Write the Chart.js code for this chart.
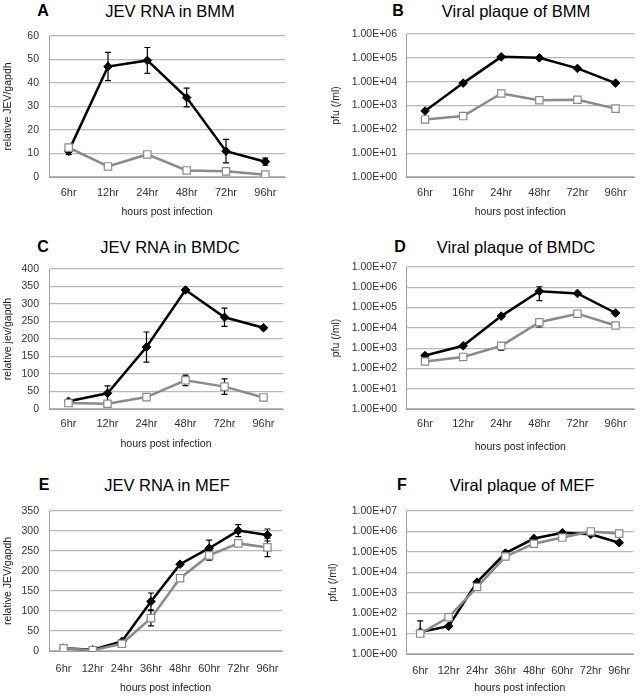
<!DOCTYPE html>
<html>
<head>
<meta charset="utf-8">
<script src="https://cdn.jsdelivr.net/npm/chart.js@4.4.0/dist/chart.umd.min.js"></script>
<style>
    body { margin: 0; background: #fff; width: 641px; height: 696px; position: relative; overflow: hidden;
           font-family: 'Liberation Sans', Arial, sans-serif; }
    canvas { position: absolute; }
    .ttl { position: absolute; font-size: 16.5px; color: #000; white-space: nowrap; transform: translate(-50%, -50%); }
    .lbl { position: absolute; font-size: 16px; font-weight: bold; color: #000; transform: translate(-50%, -50%); }
</style>
</head>
<body>

<div class="lbl" style="left:43px;top:11px">A</div>
<div class="ttl" style="left:170px;top:11px">JEV RNA in BMM</div>
<div class="lbl" style="left:398px;top:11px">B</div>
<div class="ttl" style="left:516px;top:11px">Viral plaque of BMM</div>
<div class="lbl" style="left:43px;top:247px">C</div>
<div class="ttl" style="left:170px;top:247px">JEV RNA in BMDC</div>
<div class="lbl" style="left:400px;top:247px">D</div>
<div class="ttl" style="left:516px;top:247px">Viral plaque of BMDC</div>
<div class="lbl" style="left:44px;top:485px">E</div>
<div class="ttl" style="left:167px;top:485px">JEV RNA in MEF</div>
<div class="lbl" style="left:402px;top:485px">F</div>
<div class="ttl" style="left:522px;top:485px">Viral plaque of MEF</div>

<canvas id="chart-a" width="320" height="230" style="left:0;top:0"></canvas>
<canvas id="chart-b" width="321" height="230" style="left:320px;top:0"></canvas>
<canvas id="chart-c" width="320" height="230" style="left:0;top:230px"></canvas>
<canvas id="chart-d" width="321" height="230" style="left:320px;top:230px"></canvas>
<canvas id="chart-e" width="320" height="236" style="left:0;top:460px"></canvas>
<canvas id="chart-f" width="321" height="236" style="left:320px;top:460px"></canvas>

<script>
// categories
const hoursBmmRna = ['6hr', '12hr', '24hr', '48hr', '72hr', '96hr'];
const hoursBmmPfu = ['6hr', '16hr', '24hr', '48hr', '72hr', '96hr'];
const hoursBmdc = ['6hr', '12hr', '24hr', '48hr', '72hr', '96hr'];
const hoursMef = ['6hr', '12hr', '24hr', '36hr', '48hr', '60hr', '72hr', '96hr'];

// A - JEV RNA in BMM
const rnaBmmBlack = [11, 47, 49.6, 33.8, 11, 6.5];
const rnaBmmBlackErr = [1.5, 6, 5.5, 4, 5, 1.5];
const rnaBmmGrey = [12.5, 4.5, 9.6, 2.8, 2.4, 1.0];
const rnaBmmGreyErr = [0.5, 0.5, 0.5, 0.5, 0.5, 0.3];

// B - Viral plaque of BMM
const pfuBmmBlack = [590, 8700, 110000, 100000, 36000, 8700];
const pfuBmmBlackErr = [0, 0, 0, 0, 0, 0];
const pfuBmmGrey = [260, 360, 3200, 1660, 1750, 740];
const pfuBmmGreyErr = [0, 0, 0, 0, 0, 0];

// C - JEV RNA in BMDC
const rnaBmdcBlack = [22, 45, 177, 340, 262, 232];
const rnaBmdcBlackErr = [5, 21, 43, 4, 26, 4];
const rnaBmdcGrey = [17, 15, 34, 82, 64, 33];
const rnaBmdcGreyErr = [3, 3, 4, 15, 22, 3];

// D - Viral plaque of BMDC
const pfuBmdcBlack = [430, 1300, 38000, 640000, 500000, 54000];
const pfuBmdcBlackErr = [0, 0, 0, 420000, 0, 0];
const pfuBmdcGrey = [220, 370, 1300, 19000, 50000, 13000];
const pfuBmdcGreyErr = [0, 0, 500, 8000, 0, 0];

// E - JEV RNA in MEF
const rnaMefBlack = [7, 3, 24, 124, 217, 257, 301, 290];
const rnaMefBlackErr = [2, 1, 3, 21, 4, 20, 15, 15];
const rnaMefGrey = [6.7, 2, 18, 82, 182, 239, 269, 259];
const rnaMefGreyErr = [2, 1, 3, 19, 4, 12, 6, 23];

// F - Viral plaque of MEF
const pfuMefBlack = [12, 23, 3300, 87000, 450000, 850000, 720000, 280000];
const pfuMefBlackErr = [30, 0, 0, 0, 0, 0, 0, 0];
const pfuMefGrey = [10, 63, 1900, 59000, 250000, 500000, 1000000, 780000];
const pfuMefGreyErr = [0, 0, 0, 0, 0, 0, 0, 0];

const FONT = "'Liberation Sans', Arial, sans-serif";
const FS = 10.5;
const LH = FS * 1.2;

// error bars drawn from each dataset's errors array
const errorBars = {
    id: 'errorBars',
    beforeDatasetsDraw(chart) {
        const ctx = chart.ctx;
        const yScale = chart.scales.y;
        const isLog = yScale.type === 'logarithmic';
        chart.data.datasets.forEach((ds, di) => {
            if (!ds.errors) return;
            const meta = chart.getDatasetMeta(di);
            ctx.save();
            ctx.strokeStyle = '#000';
            ctx.lineWidth = 1.2;
            ds.data.forEach((v, i) => {
                const e = ds.errors[i];
                if (!e) return;
                const x = meta.data[i].x;
                const yHi = yScale.getPixelForValue(v + e);
                const lo = v - e;
                const yLo = (isLog && lo <= 0) ? yScale.getPixelForValue(v) : yScale.getPixelForValue(lo);
                ctx.beginPath();
                ctx.moveTo(x, yHi); ctx.lineTo(x, yLo);
                ctx.moveTo(x - 3, yHi); ctx.lineTo(x + 3, yHi);
                if (!(isLog && lo <= 0)) { ctx.moveTo(x - 3, yLo); ctx.lineTo(x + 3, yLo); }
                ctx.stroke();
            });
            ctx.restore();
        });
    }
};

function expLabel(value) {
    const e = Math.round(Math.log10(value));
    return '1.00E+' + String(e).padStart(2, '0');
}

function makePanel(id, g, labels, black, blackErr, grey, greyErr, axis) {
    const isLog = axis.type === 'logarithmic';
    const yScale = {
        type: axis.type,
        min: axis.min,
        max: axis.max,
        border: { color: '#a0a0a0', width: 1 },
        grid: { color: '#b8b8b8', lineWidth: 1.2, drawTicks: false },
        ticks: {
            padding: g.yTickPad,
            color: '#333',
            font: { family: FONT, size: FS }
        },
        title: {
            display: true,
            text: axis.title,
            color: '#222',
            font: { family: FONT, size: FS },
            padding: { top: g.yTitleX - g.x - LH / 2, bottom: 0 }
        },
        afterFit: function(s) { s.width = g.left - g.x; }
    };
    if (isLog) {
        yScale.afterBuildTicks = function(s) {
            const ticks = [];
            for (let v = axis.min; v <= axis.max * 1.001; v *= 10) ticks.push({ value: v });
            s.ticks = ticks;
        };
        yScale.ticks.callback = expLabel;
    } else {
        yScale.ticks.stepSize = axis.step;
    }

    new Chart(document.getElementById(id), {
        type: 'line',
        data: {
            labels: labels,
            datasets: [
                {
                    data: grey,
                    errors: greyErr,
                    order: 0,
                    borderColor: '#8a8a8a',
                    borderWidth: 2.5,
                    pointStyle: 'rect',
                    pointRadius: 5.2,
                    pointBackgroundColor: '#ffffff',
                    pointBorderColor: '#8a8a8a',
                    pointBorderWidth: 1.2,
                    tension: 0
                },
                {
                    data: black,
                    errors: blackErr,
                    order: 1,
                    borderColor: '#000000',
                    borderWidth: 2.5,
                    pointStyle: 'rectRot',
                    pointRadius: 4.3,
                    pointBackgroundColor: '#000000',
                    pointBorderColor: '#000000',
                    pointBorderWidth: 1,
                    tension: 0
                }
            ]
        },
        options: {
            responsive: false,
            animation: false,
            devicePixelRatio: 1,
            layout: {
                padding: { left: 0, bottom: 0, top: g.top - g.y, right: g.x + g.w - g.right }
            },
            plugins: {
                legend: { display: false },
                tooltip: { enabled: false }
            },
            scales: {
                x: {
                    offset: true,
                    grid: { display: false, drawTicks: false },
                    border: { color: '#a0a0a0', width: 1 },
                    ticks: {
                        padding: g.tickY - g.bottom - 6.6,
                        color: '#333',
                        maxRotation: 0,
                        autoSkip: false,
                        font: { family: FONT, size: 11 }
                    },
                    title: {
                        display: true,
                        text: 'hours post infection',
                        color: '#222',
                        font: { family: FONT, size: FS },
                        padding: { top: 0, bottom: g.y + g.h - g.titleY - LH / 2 }
                    },
                    afterFit: function(s) { s.height = g.y + g.h - g.bottom; }
                },
                y: yScale
            }
        },
        plugins: [errorBars]
    });
}

makePanel('chart-a',
    { x: 0, y: 0, w: 320, h: 230, left: 49, right: 285, top: 36, bottom: 177, tickY: 193, titleY: 212, yTitleX: 8, yTickPad: 10 },
    hoursBmmRna, rnaBmmBlack, rnaBmmBlackErr, rnaBmmGrey, rnaBmmGreyErr,
    { type: 'linear', min: 0, max: 60, step: 10, title: 'relative JEV/gapdh' });

makePanel('chart-b',
    { x: 320, y: 0, w: 321, h: 230, left: 406, right: 640, top: 34, bottom: 177, tickY: 193, titleY: 212, yTitleX: 336, yTickPad: 9 },
    hoursBmmPfu, pfuBmmBlack, pfuBmmBlackErr, pfuBmmGrey, pfuBmmGreyErr,
    { type: 'logarithmic', min: 1, max: 1e6, title: 'pfu (/ml)' });

makePanel('chart-c',
    { x: 0, y: 230, w: 320, h: 230, left: 49, right: 283, top: 269, bottom: 409, tickY: 424, titleY: 444, yTitleX: 8, yTickPad: 10 },
    hoursBmdc, rnaBmdcBlack, rnaBmdcBlackErr, rnaBmdcGrey, rnaBmdcGreyErr,
    { type: 'linear', min: 0, max: 400, step: 50, title: 'relative jev/gapdh' });

makePanel('chart-d',
    { x: 320, y: 230, w: 321, h: 230, left: 406, right: 640, top: 267, bottom: 409, tickY: 424, titleY: 447, yTitleX: 336, yTickPad: 9 },
    hoursBmdc, pfuBmdcBlack, pfuBmdcBlackErr, pfuBmdcGrey, pfuBmdcGreyErr,
    { type: 'logarithmic', min: 1, max: 1e7, title: 'pfu (/ml)' });

makePanel('chart-e',
    { x: 0, y: 460, w: 320, h: 236, left: 49, right: 282, top: 511, bottom: 651, tickY: 669, titleY: 688, yTitleX: 8, yTickPad: 10 },
    hoursMef, rnaMefBlack, rnaMefBlackErr, rnaMefGrey, rnaMefGreyErr,
    { type: 'linear', min: 0, max: 350, step: 50, title: 'relative JEV/gapdh' });

makePanel('chart-f',
    { x: 320, y: 460, w: 321, h: 236, left: 406, right: 638, top: 511, bottom: 654, tickY: 671, titleY: 688, yTitleX: 333, yTickPad: 9 },
    hoursMef, pfuMefBlack, pfuMefBlackErr, pfuMefGrey, pfuMefGreyErr,
    { type: 'logarithmic', min: 1, max: 1e7, title: 'pfu (/ml)' });
</script>
</body>
</html>
